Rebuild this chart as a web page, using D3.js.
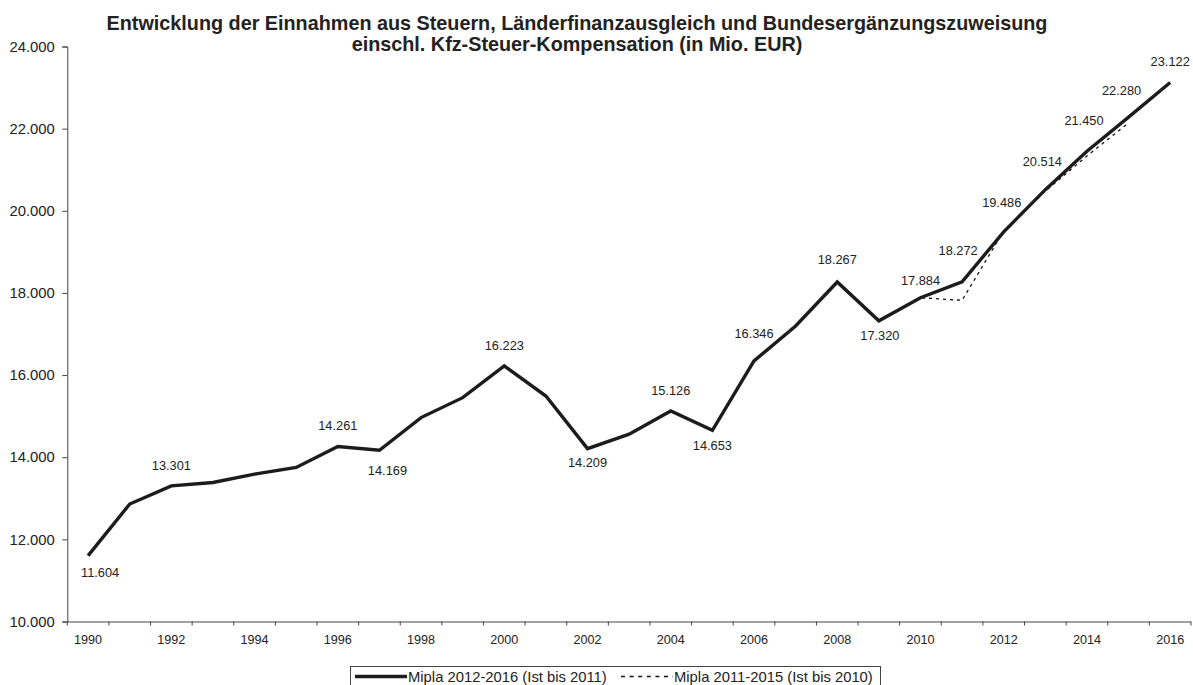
<!DOCTYPE html>
<html>
<head>
<meta charset="utf-8">
<script src="https://cdn.jsdelivr.net/npm/d3@7"></script>
<style>
  html, body { margin: 0; padding: 0; background: #fff; }
  svg { display: block; font-family: "Liberation Sans", Arial, sans-serif; }
</style>
</head>
<body>
<svg id="chart" width="1193" height="685"></svg>
<script>
// Jahre (Kategorien der x-Achse)
const years = [1990, 1991, 1992, 1993, 1994, 1995, 1996, 1997, 1998, 1999,
               2000, 2001, 2002, 2003, 2004, 2005, 2006, 2007, 2008, 2009,
               2010, 2011, 2012, 2013, 2014, 2015, 2016];

// Mipla 2012-2016 (Ist bis 2011), Mio. EUR
const mipla2012 = [11604, 12860, 13301, 13385, 13590, 13750, 14261, 14169, 14965, 15450,
                   16223, 15490, 14209, 14560, 15126, 14653, 16346, 17195, 18267, 17320,
                   17884, 18272, 19486, 20514, 21450, 22280, 23122];

// Mipla 2011-2015 (Ist bis 2010), Mio. EUR
const mipla2011Years = [1990, 1991, 1992, 1993, 1994, 1995, 1996, 1997, 1998, 1999,
                        2000, 2001, 2002, 2003, 2004, 2005, 2006, 2007, 2008, 2009,
                        2010, 2011, 2012, 2013, 2014, 2015];
const mipla2011 = [11604, 12860, 13301, 13385, 13590, 13750, 14261, 14169, 14965, 15450,
                   16223, 15490, 14209, 14560, 15126, 14653, 16346, 17195, 18267, 17320,
                   17884, 17820, 19510, 20480, 21335, 22140];

// Jahre mit Datenbeschriftung
const labelledYears = [1990, 1992, 1996, 1997, 2000, 2002, 2004, 2005, 2006, 2008,
                       2009, 2010, 2011, 2012, 2013, 2014, 2015, 2016];

// y-Achsen-Teilstriche
const yTicks = [10000, 12000, 14000, 16000, 18000, 20000, 22000, 24000];
// beschriftete Jahre der x-Achse
const xTickLabels = [1990, 1992, 1994, 1996, 1998, 2000, 2002, 2004, 2006, 2008, 2010, 2012, 2014, 2016];

const titleLines = [
  "Entwicklung der Einnahmen aus Steuern, Länderfinanzausgleich und Bundesergänzungszuweisung",
  "einschl. Kfz-Steuer-Kompensation (in Mio. EUR)"
];
const legendNames = ["Mipla 2012-2016 (Ist bis 2011)", "Mipla 2011-2015 (Ist bis 2010)"];

// Lage der Beschriftungen relativ zum Datenpunkt [dx, dy]
const labelPlacement = {
  1990: [12, 17], 1992: [0, -20], 1996: [0, -21], 1997: [8, 20], 2000: [0, -20],
  2002: [0, 14], 2004: [0, -20], 2005: [0, 15], 2006: [0, -27], 2008: [0, -22],
  2009: [1, 15], 2010: [0, -17], 2011: [-4, -31], 2012: [-2, -29], 2013: [-3, -28],
  2014: [-3, -31], 2015: [-7, -27], 2016: [0, -21]
};

const de = d3.formatLocale({ decimal: ",", thousands: ".", grouping: [3], currency: ["", " €"] });
const fmt = de.format(",.0f");

const svg = d3.select("#chart");
const plotLeft = 67.3, plotRight = 1191, plotTop = 46.5, plotBottom = 621.5;

const x = d3.scaleBand().domain(years).range([plotLeft, plotRight]).padding(0);
const y = d3.scaleLinear().domain([10000, 24000]).range([plotBottom, plotTop]);
const cx = yr => x(yr) + x.bandwidth() / 2;

// Titel
const title = svg.append("text")
  .attr("text-anchor", "middle")
  .attr("font-weight", "bold")
  .attr("font-size", "19.8px")
  .attr("fill", "#222");
title.append("tspan").attr("x", 577).attr("y", 29.5).text(titleLines[0]);
title.append("tspan").attr("x", 577).attr("y", 50.5).text(titleLines[1]);

// y-Achse
const yAxis = svg.append("g")
  .attr("transform", `translate(${plotLeft},0)`)
  .call(d3.axisLeft(y).tickValues(yTicks).tickSize(5).tickPadding(7.5).tickFormat(fmt));
yAxis.selectAll("text").attr("font-size", "14.8px").attr("fill", "#222").attr("font-family", "Liberation Sans, Arial, sans-serif");

// x-Achse mit Teilstrichen zwischen den Kategorien
const xAxis = svg.append("g")
  .attr("transform", `translate(0,${plotBottom})`)
  .call(d3.axisBottom(x).tickValues(xTickLabels).tickSize(0).tickPadding(14));
xAxis.selectAll("text").attr("font-size", "12.6px").attr("fill", "#222").attr("font-family", "Liberation Sans, Arial, sans-serif");
xAxis.select(".domain").attr("d", `M${plotLeft},0.5H${plotRight}`);
xAxis.selectAll("line.sep")
  .data(years.concat([null]))
  .join("line")
  .attr("class", "sep")
  .attr("x1", (d, i) => i < years.length ? x(d) : plotRight)
  .attr("x2", (d, i) => i < years.length ? x(d) : plotRight)
  .attr("y1", 0).attr("y2", 4)
  .attr("stroke", "#444");

svg.selectAll(".domain").attr("stroke", "#444");
svg.selectAll(".tick line").attr("stroke", "#444");

// Linien
const line = d3.line().x(d => cx(d[0])).y(d => y(d[1]));

svg.append("path")
  .datum(mipla2011Years.map((yr, i) => [yr, mipla2011[i]]))
  .attr("d", line)
  .attr("fill", "none")
  .attr("stroke", "#111")
  .attr("stroke-width", 1.3)
  .attr("stroke-dasharray", "3,4");

svg.append("path")
  .datum(years.map((yr, i) => [yr, mipla2012[i]]))
  .attr("d", line)
  .attr("fill", "none")
  .attr("stroke", "#1c1c1c")
  .attr("stroke-width", 3.4)
  .attr("stroke-linejoin", "miter");

// Datenbeschriftung
svg.append("g")
  .selectAll("text")
  .data(labelledYears)
  .join("text")
  .attr("x", yr => cx(yr) + labelPlacement[yr][0])
  .attr("y", yr => y(mipla2012[years.indexOf(yr)]) + labelPlacement[yr][1])
  .attr("dy", "0.35em")
  .attr("text-anchor", "middle")
  .attr("font-size", "12.8px")
  .attr("fill", "#222")
  .text(yr => fmt(mipla2012[years.indexOf(yr)]));

// Legende
const lg = svg.append("g");
lg.append("rect")
  .attr("x", 350.5).attr("y", 666.5).attr("width", 530).attr("height", 40)
  .attr("fill", "#fff").attr("stroke", "#444");
lg.append("line").attr("x1", 355).attr("x2", 407).attr("y1", 676.5).attr("y2", 676.5)
  .attr("stroke", "#1c1c1c").attr("stroke-width", 3.4);
lg.append("text").attr("x", 408).attr("y", 681.5).attr("font-size", "14.8px").attr("fill", "#222").text(legendNames[0]);
lg.append("line").attr("x1", 621).attr("x2", 673).attr("y1", 676.5).attr("y2", 676.5)
  .attr("stroke", "#111").attr("stroke-width", 1.3).attr("stroke-dasharray", "4,4.6");
lg.append("text").attr("x", 674).attr("y", 681.5).attr("font-size", "14.8px").attr("fill", "#222").text(legendNames[1]);
</script>
</body>
</html>
